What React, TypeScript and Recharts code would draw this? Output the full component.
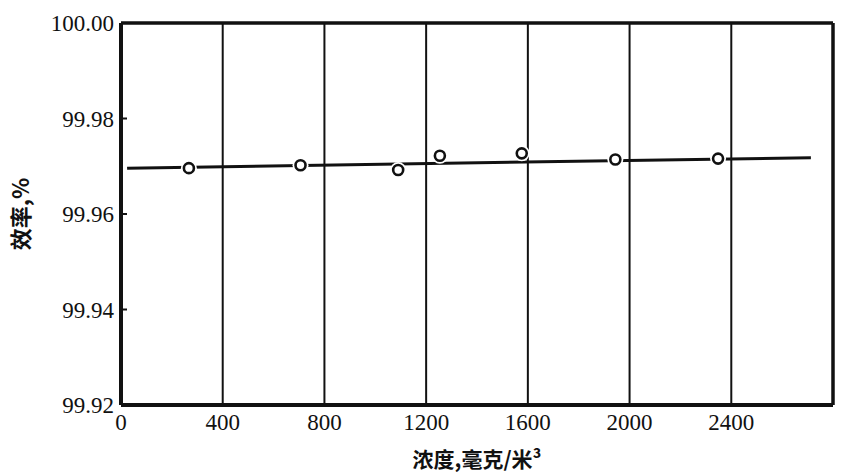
import React from 'react';
import {
  ComposedChart,
  XAxis,
  YAxis,
  CartesianGrid,
  Line,
  Scatter,
  ReferenceLine,
} from 'recharts';

const concentration = [267, 706, 1090, 1254, 1576, 1944, 2348];
const efficiency = [99.9696, 99.9702, 99.9692, 99.9722, 99.9727, 99.9714, 99.9716];
const trendX = [24, 2713];
const trendY = [99.9696, 99.9718];
const xTicks = [0, 400, 800, 1200, 1600, 2000, 2400];
const yTicks = [99.92, 99.94, 99.96, 99.98, 100.0];

const points = concentration.map((x, i) => ({ x, y: efficiency[i] }));
const trend = trendX.map((x, i) => ({ x, y: trendY[i] }));

const serif = '"Liberation Serif", "DejaVu Serif", serif';
const cjk = '"Noto Sans CJK SC", "Liberation Serif", sans-serif';

const Marker = (props: any) => {
  const { cx, cy } = props;
  if (cx == null || cy == null) return null;
  return (
    <g>
      <circle cx={cx} cy={cy} r={8} fill="#fff" stroke="none" />
      <circle cx={cx} cy={cy} r={5} fill="#fff" stroke="#111" strokeWidth={2.6} />
    </g>
  );
};

export default function App() {
  return (
    <div style={{ position: 'absolute', left: 0, top: 0, background: '#fff' }}>
      <ComposedChart
        width={846}
        height={474}
        margin={{ top: 23, right: 13, left: 0, bottom: 0 }}
      >
        <CartesianGrid horizontal={false} vertical stroke="#111" strokeWidth={2} />
        <XAxis
          type="number"
          dataKey="x"
          domain={[0, 2800]}
          ticks={xTicks}
          allowDataOverflow
          height={69}
          axisLine={{ stroke: '#111', strokeWidth: 4 }}
          tickLine={false}
          tickMargin={3}
          tick={{ fill: '#111', fontSize: 23, fontFamily: serif }}
          label={{
            value: '浓度,毫克/米³',
            position: 'insideBottom',
            offset: 7,
            style: { fill: '#111', fontSize: 21, fontFamily: cjk, fontWeight: 700 },
          }}
        />
        <YAxis
          type="number"
          domain={[99.92, 100]}
          ticks={yTicks}
          allowDataOverflow
          width={121}
          axisLine={{ stroke: '#111', strokeWidth: 4 }}
          tickSize={-6}
          tickMargin={13}
          tickLine={{ stroke: '#111', strokeWidth: 2 }}
          tickFormatter={(v: number) => v.toFixed(2)}
          tick={{ fill: '#111', fontSize: 23, fontFamily: serif }}
          label={{
            value: '效率,%',
            angle: -90,
            position: 'insideLeft',
            offset: 21,
            style: { fill: '#111', fontSize: 22, fontFamily: cjk, fontWeight: 700, textAnchor: 'middle' },
          }}
        />
        <ReferenceLine y={100} stroke="#111" strokeWidth={3.5} />
        <ReferenceLine x={2800} stroke="#111" strokeWidth={3.5} />
        <Line
          data={trend}
          dataKey="y"
          stroke="#111"
          strokeWidth={3}
          dot={false}
          activeDot={false}
          isAnimationActive={false}
          legendType="none"
        />
        <Scatter
          data={points}
          dataKey="y"
          shape={<Marker />}
          isAnimationActive={false}
          legendType="none"
        />
      </ComposedChart>
    </div>
  );
}
